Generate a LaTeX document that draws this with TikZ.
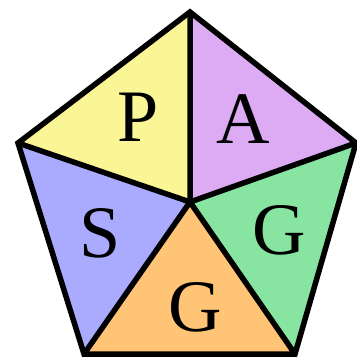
\documentclass[tikz,border=0pt]{standalone}
\usepackage{fontspec}
\setmainfont{Liberation Serif}
\definecolor{cyel}{RGB}{250,246,150}
\definecolor{cpur}{RGB}{221,170,244}
\definecolor{cblu}{RGB}{170,170,255}
\definecolor{cgrn}{RGB}{136,228,161}
\definecolor{corg}{RGB}{255,196,118}
\begin{document}
\begin{tikzpicture}[x=1pt,y=-1pt,
  sector/.style={line width=5.5pt,line join=miter,draw=black},
  letter/.style={anchor=base,inner sep=0pt,font=\fontsize{74}{74}\selectfont}]
\useasboundingbox (0,0) rectangle (356,358);
\coordinate (C) at (190,202);
\coordinate (T) at (190,12);
\coordinate (L) at (18,143);
\coordinate (R) at (356,143);
\coordinate (BL) at (84,354);
\coordinate (BR) at (295,354);
\fill[cyel] (C) -- (L) -- (T) -- cycle;
\fill[cpur] (C) -- (T) -- (R) -- cycle;
\fill[cgrn] (C) -- (R) -- (BR) -- cycle;
\fill[corg] (C) -- (BR) -- (BL) -- cycle;
\fill[cblu] (C) -- (BL) -- (L) -- cycle;
\draw[sector] (T) -- (R) -- (BR) -- (BL) -- (L) -- cycle;
\draw[sector] (C) -- (T) (C) -- (R) (C) -- (BR) (C) -- (BL) (C) -- (L);
\node[letter] (p) at (138,142) {P};
\node[letter] (a) at (243,143) {A};
\node[letter] (s) at (100,257) {S};
\node[letter] (g1) at (279,254) {G};
\node[letter] (g2) at (195,331) {G};
\end{tikzpicture}
\end{document}
